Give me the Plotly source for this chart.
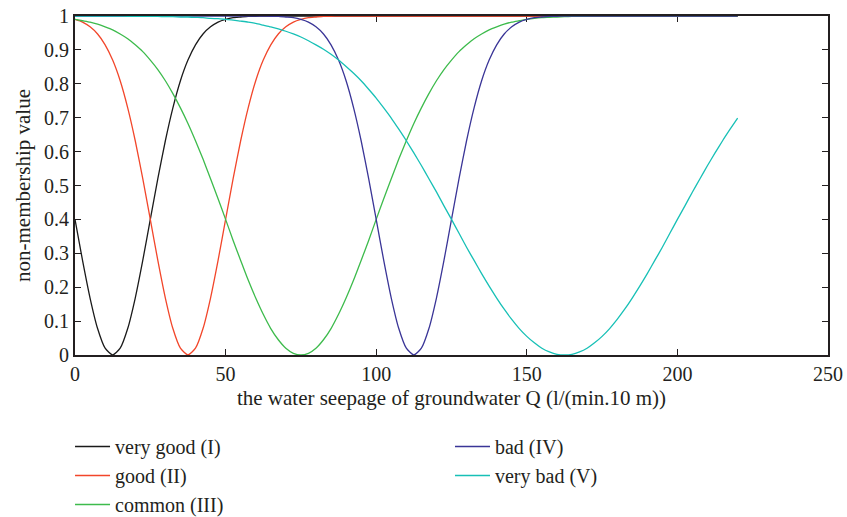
import plotly.graph_objects as go

# x grid (step 2.5 from 0 to 220)
x_vals = [i * 2.5 for i in range(89)]

very_good = [
    0.400, 0.279, 0.168, 0.078, 0.020, 0.000, 0.020, 0.078, 0.168, 0.279,   # 0 - 22.5
    0.400, 0.520, 0.632, 0.729, 0.809, 0.870, 0.915, 0.947, 0.968, 0.982,   # 25 - 47.5
    0.990, 0.995, 0.997, 0.999, 0.999, 1.000, 1.000, 1.000, 1.000, 1.000,   # 50 - 72.5
    1.000, 1.000, 1.000, 1.000, 1.000, 1.000, 1.000, 1.000, 1.000, 1.000,   # 75 - 97.5
    1.000, 1.000, 1.000, 1.000, 1.000, 1.000, 1.000, 1.000, 1.000, 1.000,   # 100 - 122.5
    1.000, 1.000, 1.000, 1.000, 1.000, 1.000, 1.000, 1.000, 1.000, 1.000,   # 125 - 147.5
    1.000, 1.000, 1.000, 1.000, 1.000, 1.000, 1.000, 1.000, 1.000, 1.000,   # 150 - 172.5
    1.000, 1.000, 1.000, 1.000, 1.000, 1.000, 1.000, 1.000, 1.000, 1.000,   # 175 - 197.5
    1.000, 1.000, 1.000, 1.000, 1.000, 1.000, 1.000, 1.000, 1.000,          # 200 - 220
]

good = [
    0.990, 0.982, 0.968, 0.947, 0.915, 0.870, 0.809, 0.729, 0.632, 0.520,   # 0 - 22.5
    0.400, 0.279, 0.168, 0.078, 0.020, 0.000, 0.020, 0.078, 0.168, 0.279,   # 25 - 47.5
    0.400, 0.520, 0.632, 0.729, 0.809, 0.870, 0.915, 0.947, 0.968, 0.982,   # 50 - 72.5
    0.990, 0.995, 0.997, 0.999, 0.999, 1.000, 1.000, 1.000, 1.000, 1.000,   # 75 - 97.5
    1.000, 1.000, 1.000, 1.000, 1.000, 1.000, 1.000, 1.000, 1.000, 1.000,   # 100 - 122.5
    1.000, 1.000, 1.000, 1.000, 1.000, 1.000, 1.000, 1.000, 1.000, 1.000,   # 125 - 147.5
    1.000, 1.000, 1.000, 1.000, 1.000, 1.000, 1.000, 1.000, 1.000, 1.000,   # 150 - 172.5
    1.000, 1.000, 1.000, 1.000, 1.000, 1.000, 1.000, 1.000, 1.000, 1.000,   # 175 - 197.5
    1.000, 1.000, 1.000, 1.000, 1.000, 1.000, 1.000, 1.000, 1.000,          # 200 - 220
]

common = [
    0.990, 0.986, 0.982, 0.976, 0.968, 0.959, 0.947, 0.933, 0.915, 0.895,   # 0 - 22.5
    0.870, 0.842, 0.809, 0.771, 0.729, 0.683, 0.632, 0.578, 0.520, 0.461,   # 25 - 47.5
    0.400, 0.338, 0.279, 0.221, 0.168, 0.120, 0.078, 0.045, 0.020, 0.005,   # 50 - 72.5
    0.000, 0.005, 0.020, 0.045, 0.078, 0.120, 0.168, 0.221, 0.279, 0.338,   # 75 - 97.5
    0.400, 0.461, 0.520, 0.578, 0.632, 0.683, 0.729, 0.771, 0.809, 0.842,   # 100 - 122.5
    0.870, 0.895, 0.915, 0.933, 0.947, 0.959, 0.968, 0.976, 0.982, 0.986,   # 125 - 147.5
    0.990, 0.993, 0.995, 0.996, 0.997, 0.998, 0.999, 0.999, 0.999, 1.000,   # 150 - 172.5
    1.000, 1.000, 1.000, 1.000, 1.000, 1.000, 1.000, 1.000, 1.000, 1.000,   # 175 - 197.5
    1.000, 1.000, 1.000, 1.000, 1.000, 1.000, 1.000, 1.000, 1.000,          # 200 - 220
]

bad = [
    1.000, 1.000, 1.000, 1.000, 1.000, 1.000, 1.000, 1.000, 1.000, 1.000,   # 0 - 22.5
    1.000, 1.000, 1.000, 1.000, 1.000, 1.000, 1.000, 1.000, 1.000, 1.000,   # 25 - 47.5
    1.000, 1.000, 1.000, 1.000, 1.000, 1.000, 0.999, 0.999, 0.997, 0.995,   # 50 - 72.5
    0.990, 0.982, 0.968, 0.947, 0.915, 0.870, 0.809, 0.729, 0.632, 0.520,   # 75 - 97.5
    0.400, 0.279, 0.168, 0.078, 0.020, 0.000, 0.020, 0.078, 0.168, 0.279,   # 100 - 122.5
    0.400, 0.520, 0.632, 0.729, 0.809, 0.870, 0.915, 0.947, 0.968, 0.982,   # 125 - 147.5
    0.990, 0.995, 0.997, 0.999, 0.999, 1.000, 1.000, 1.000, 1.000, 1.000,   # 150 - 172.5
    1.000, 1.000, 1.000, 1.000, 1.000, 1.000, 1.000, 1.000, 1.000, 1.000,   # 175 - 197.5
    1.000, 1.000, 1.000, 1.000, 1.000, 1.000, 1.000, 1.000, 1.000,          # 200 - 220
]

very_bad = [
    1.000, 1.000, 1.000, 1.000, 1.000, 1.000, 1.000, 0.999, 0.999, 0.999,   # 0 - 22.5
    0.999, 0.999, 0.998, 0.998, 0.997, 0.997, 0.996, 0.995, 0.993, 0.992,   # 25 - 47.5
    0.990, 0.988, 0.985, 0.982, 0.978, 0.973, 0.968, 0.962, 0.955, 0.947,   # 50 - 72.5
    0.938, 0.927, 0.915, 0.902, 0.887, 0.870, 0.851, 0.831, 0.809, 0.784,   # 75 - 97.5
    0.758, 0.729, 0.699, 0.666, 0.632, 0.596, 0.559, 0.520, 0.481, 0.440,   # 100 - 122.5
    0.400, 0.359, 0.318, 0.279, 0.240, 0.203, 0.168, 0.135, 0.105, 0.078,   # 125 - 147.5
    0.055, 0.036, 0.020, 0.009, 0.002, 0.000, 0.002, 0.009, 0.020, 0.036,   # 150 - 172.5
    0.055, 0.078, 0.105, 0.135, 0.168, 0.203, 0.240, 0.279, 0.318, 0.359,   # 175 - 197.5
    0.400, 0.440, 0.481, 0.520, 0.559, 0.596, 0.632, 0.666, 0.699,          # 200 - 220
]

series_names = ["very good (I)", "good (II)", "common (III)", "bad (IV)", "very bad (V)"]
series_values = [very_good, good, common, bad, very_bad]
series_colors = ["#1a1a1a", "#f2462a", "#3dbb4c", "#3a3597", "#17c0b6"]
series_legend = ["legend", "legend", "legend", "legend2", "legend2"]

x_ticks = [0, 50, 100, 150, 200, 250]
y_ticks = [0, 0.1, 0.2, 0.3, 0.4, 0.5, 0.6, 0.7, 0.8, 0.9, 1]
y_ticktext = ["0", "0.1", "0.2", "0.3", "0.4", "0.5", "0.6", "0.7", "0.8", "0.9", "1"]

FONT = "Liberation Serif"
TXT = "#231f20"

fig = go.Figure()
for name, vals, col, lg in zip(series_names, series_values, series_colors, series_legend):
    fig.add_trace(go.Scatter(
        x=x_vals, y=vals, mode="lines", name=name,
        line=dict(color=col, width=1.3, shape="spline", smoothing=0.6),
        legend=lg,
    ))

axis_common = dict(
    showline=True, linecolor="#231f20", linewidth=2, mirror="ticks",
    ticks="inside", ticklen=6, tickwidth=1.2, tickcolor="#231f20",
    showgrid=False, zeroline=False, automargin=False,
    tickfont=dict(family=FONT, size=20, color=TXT),
    layer="below traces",
)

legend_common = dict(
    xanchor="left", yanchor="top",
    orientation="v", bgcolor="rgba(0,0,0,0)",
    font=dict(family=FONT, size=20, color=TXT),
    itemwidth=35, tracegroupgap=0,
)

fig.update_layout(
    width=847, height=517,
    margin=dict(l=75, r=19, t=16, b=162, autoexpand=False),
    paper_bgcolor="white", plot_bgcolor="white",
    font=dict(family=FONT, size=20, color=TXT),
    xaxis=dict(
        range=[0, 250], tickvals=x_ticks,
        title=dict(text="the water seepage of groundwater Q (l/(min.10 m))",
                   font=dict(family=FONT, size=21, color=TXT), standoff=6),
        **axis_common,
    ),
    yaxis=dict(
        range=[0, 1], tickvals=y_ticks, ticktext=y_ticktext,
        title=dict(text="non-membership value",
                   font=dict(family=FONT, size=21, color=TXT), standoff=8),
        **axis_common,
    ),
    legend=dict(x=-0.0066, y=-0.2124, **legend_common),
    legend2=dict(x=0.498, y=-0.2124, **legend_common),
    showlegend=True,
)

fig.write_html(
    "out.html",
    config={"displayModeBar": False},
    post_script="document.body.style.margin='0';document.body.style.padding='0';",
)
